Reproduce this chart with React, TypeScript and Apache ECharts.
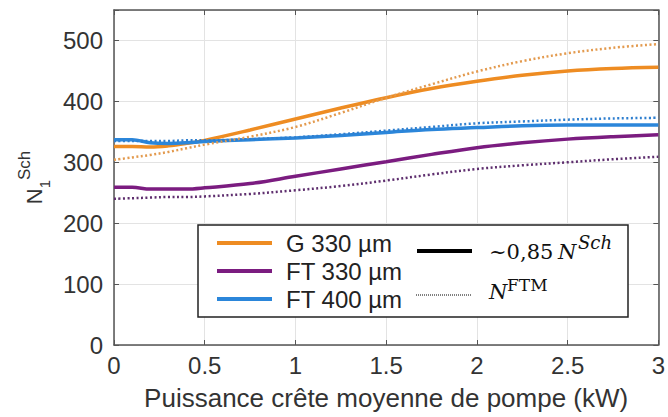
import React, { useEffect, useRef } from "react";
import * as echarts from "echarts";

// Puissance crête moyenne de pompe (kW)
const xValues = [0, 0.1, 0.2, 0.3, 0.4, 0.5, 0.75, 1, 1.25, 1.5, 1.75, 2, 2.25, 2.5, 2.75, 3];

// ~0,85 N^Sch (solid)
const g330Sch = [326, 326, 325, 327, 331, 336, 353, 371, 389, 406, 421, 433, 443, 450, 454, 456];
const ft330Sch = [259, 259, 256, 256, 256, 258, 265, 277, 289, 301, 313, 324, 332, 338, 342, 345];
const ft400Sch = [337, 337, 332, 331, 332, 334, 337, 340, 344, 349, 354, 357, 360, 361, 361, 361];

// N^FTM (dotted)
const g330Ftm = [304, 308, 312, 317, 323, 329, 342, 358, 381, 406, 428, 449, 466, 479, 488, 494];
const ft330Ftm = [240, 241, 242, 243, 243, 244, 248, 254, 261, 270, 280, 289, 295, 300, 305, 309];
const ft400Ftm = [335, 335, 335, 335, 336, 336, 338, 341, 346, 352, 358, 364, 367, 370, 372, 373];

const fiberNames = ["G 330 µm", "FT 330 µm", "FT 400 µm"];
const fiberColors = ["#EE8C22", "#7B1C80", "#2B86DA"];
const dottedColors = ["#E39A4E", "#5E2E6E", "#2F7FCF"];

const xTitle = "Puissance crête moyenne de pompe (kW)";

const SANS = "'Liberation Sans', Arial, sans-serif";
const SERIF = "'DejaVu Serif', serif";

export default function App() {
  const ref = useRef<HTMLDivElement>(null);

  useEffect(() => {
    if (!ref.current) return;
    const chart = echarts.init(ref.current, undefined, { renderer: "svg" });

    const pair = (arr: number[]) => xValues.map((x, i) => [x, arr[i]]);
    const solids = [g330Sch, ft330Sch, ft400Sch];
    const dots = [g330Ftm, ft330Ftm, ft400Ftm];

    const series: any[] = [];
    solids.forEach((s, i) => {
      series.push({
        name: fiberNames[i] + " Sch",
        type: "line",
        data: pair(s),
        smooth: 0.35,
        showSymbol: false,
        lineStyle: { color: fiberColors[i], width: 3.5 },
        z: 2,
      });
    });
    dots.forEach((s, i) => {
      series.push({
        name: fiberNames[i] + " FTM",
        type: "line",
        data: pair(s),
        smooth: 0.35,
        showSymbol: false,
        lineStyle: { color: dottedColors[i], width: 2.5, type: [2, 2.5] },
        z: 3,
      });
    });

    const axisCol = "#555";
    const labelStyle = { fontFamily: SANS, fontSize: 24, color: "#333" };

    const txt = (x: number, y: number, text: string, extra: any) => ({
      type: "text",
      x,
      y,
      z: 101,
      style: {
        text,
        fill: "#111",
        verticalAlign: "middle",
        textVerticalAlign: "middle",
        ...extra,
      },
    });

    const legendLines = fiberNames.map((_, i) => ({
      type: "line",
      shape: { x1: 217, y1: 243 + i * 28, x2: 272, y2: 243 + i * 28 },
      style: { stroke: fiberColors[i], lineWidth: 4 },
      z: 101,
    }));
    const legendTexts = fiberNames.map((n, i) =>
      txt(286, 243 + i * 28, n, { fontFamily: SANS, fontSize: 24, fill: "#222" })
    );

    chart.setOption({
      animation: false,
      grid: { left: 114, right: 6, top: 10, bottom: 72, containLabel: false },
      xAxis: [
        {
          type: "value",
          min: 0,
          max: 3,
          interval: 0.5,
          name: xTitle,
          nameLocation: "middle",
          nameGap: 40,
          nameTextStyle: { fontFamily: SANS, fontSize: 26, color: "#333" },
          axisLine: { show: true, onZero: false, lineStyle: { color: axisCol, width: 1.5 } },
          axisTick: { show: true, inside: true, length: 5, lineStyle: { color: axisCol } },
          axisLabel: { ...labelStyle, margin: 8 },
          splitLine: { show: true, lineStyle: { color: "#E3E3E3", width: 1 } },
        },
        {
          type: "value",
          position: "top",
          min: 0,
          max: 3,
          interval: 0.5,
          axisLine: { show: true, onZero: false, lineStyle: { color: axisCol, width: 1.5 } },
          axisTick: { show: true, inside: true, length: 5, lineStyle: { color: axisCol } },
          axisLabel: { show: false },
          splitLine: { show: false },
        },
      ],
      yAxis: [
        {
          type: "value",
          min: 0,
          max: 550,
          interval: 100,
          name: "{n|N}{sub|1}{sup|Sch}",
          nameLocation: "middle",
          nameRotate: 90,
          nameGap: 60,
          nameTextStyle: {
            fontFamily: SANS,
            color: "#333",
            rich: {
              n: { fontFamily: SANS, fontSize: 22, color: "#333", lineHeight: 36, verticalAlign: "middle" },
              sub: { fontFamily: SANS, fontSize: 15, color: "#333", verticalAlign: "bottom", lineHeight: 24 },
              sup: { fontFamily: SANS, fontSize: 17, color: "#333", verticalAlign: "top", lineHeight: 18 },
            },
          },
          axisLine: { show: true, onZero: false, lineStyle: { color: axisCol, width: 1.5 } },
          axisTick: { show: true, inside: true, length: 5, lineStyle: { color: axisCol } },
          axisLabel: {
            ...labelStyle,
            margin: 11,
            formatter: (v: number) => (v % 100 === 0 ? String(v) : ""),
          },
          splitLine: { show: true, lineStyle: { color: "#E3E3E3", width: 1 } },
        },
        {
          type: "value",
          position: "right",
          min: 0,
          max: 550,
          interval: 100,
          axisLine: { show: true, onZero: false, lineStyle: { color: axisCol, width: 1.5 } },
          axisTick: { show: true, inside: true, length: 5, lineStyle: { color: axisCol } },
          axisLabel: { show: false },
          splitLine: { show: false },
        },
      ],
      series,
      graphic: [
        {
          type: "rect",
          shape: { x: 198, y: 225, width: 430, height: 92 },
          style: { fill: "#fff", stroke: "#222", lineWidth: 1.5 },
          z: 100,
        },
        ...legendLines,
        ...legendTexts,
        {
          type: "line",
          shape: { x1: 417, y1: 251, x2: 472, y2: 251 },
          style: { stroke: "#000", lineWidth: 4 },
          z: 101,
        },
        {
          type: "line",
          shape: { x1: 416, y1: 295, x2: 472, y2: 295 },
          style: { stroke: "#000", lineWidth: 1, lineDash: [1, 1] },
          z: 101,
        },
        txt(489, 252, "~0,85", { fontFamily: SERIF, fontSize: 21 }),
        txt(558, 252, "N", { fontFamily: SERIF, fontStyle: "italic", fontSize: 21 }),
        txt(578, 242, "Sch", { fontFamily: SERIF, fontStyle: "italic", fontSize: 18 }),
        txt(489, 292, "N", { fontFamily: SERIF, fontStyle: "italic", fontSize: 21 }),
        txt(507, 285, "FTM", { fontFamily: SERIF, fontSize: 17 }),
      ],
    });

    return () => chart.dispose();
  }, []);

  return (
    <div
      ref={ref}
      style={{ position: "absolute", left: 0, top: 0, width: 668, height: 417 }}
    />
  );
}
